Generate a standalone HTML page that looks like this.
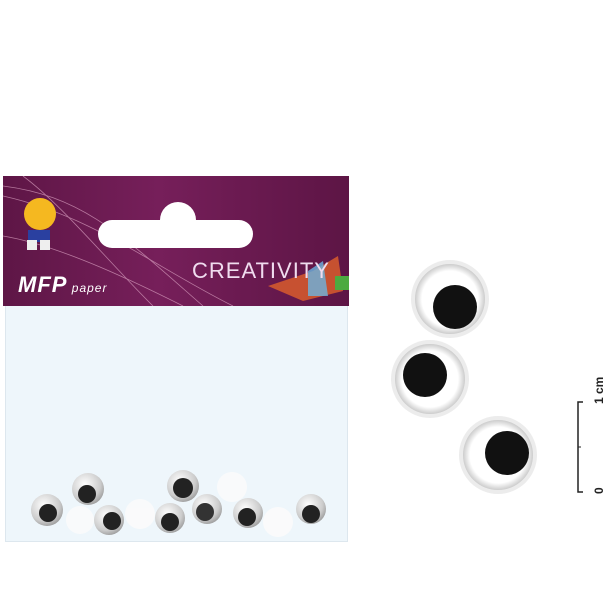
<!DOCTYPE html>
<html><head><style>
body{margin:0;width:611px;height:611px;background:#fff;position:relative;overflow:hidden;font-family:"Liberation Sans",sans-serif}
.a{position:absolute}
</style></head><body>
<div class="a" style="left:3px;top:176px;width:346px;height:130px;background:linear-gradient(90deg,#5e1646 0%,#761f5a 45%,#6a1a50 70%,#5d1545 100%)"></div>
<svg class="a" style="left:3px;top:176px" width="346" height="130">
<g fill="none" stroke="#d9a0c0" stroke-width="0.8" opacity="0.7">
<path d="M0 10 C80 20 120 60 200 130"/><path d="M0 20 C90 40 150 90 230 130"/><path d="M0 60 C60 70 140 110 180 130"/><path d="M20 0 C60 30 100 80 150 130"/>
</g>
<rect x="95" y="44" width="155" height="28" rx="14" fill="#fff"/>
<circle cx="175" cy="44" r="18" fill="#fff"/>
<circle cx="37" cy="38" r="16" fill="#f5b820"/>
<rect x="25" y="54" width="22" height="12" fill="#2a40a0"/>
<rect x="24" y="64" width="10" height="10" fill="#eee"/><rect x="37" y="64" width="10" height="10" fill="#eee"/>
<path d="M265 110 L310 95 L335 80 L340 115 L300 125Z" fill="#e0602a" opacity="0.8"/>
<path d="M305 95 L320 85 L325 120 L305 120Z" fill="#6cb4e0" opacity="0.8"/>
<rect x="332" y="100" width="14" height="14" fill="#4caa40"/>
</svg>
<div class="a" style="left:18px;top:272px;color:#fff;font-weight:bold;font-style:italic;font-size:22px;letter-spacing:1px">MFP<span style="font-size:12px;font-weight:normal;letter-spacing:1px"> paper</span></div>
<div class="a" style="left:192px;top:258px;color:#f0dcef;font-size:22px;letter-spacing:1px">CREATIVITY</div>
<div class="a" style="left:5px;top:306px;width:341px;height:235px;background:#eef6fb;border:1px solid #dde7ee;border-top:none"></div>
<svg class="a" style="left:0;top:0" width="611" height="611">
<defs>
<radialGradient id="s" cx="0.4" cy="0.35" r="0.7"><stop offset="0" stop-color="#fff"/><stop offset="0.7" stop-color="#ccc"/><stop offset="1" stop-color="#999"/></radialGradient>
<radialGradient id="w" cx="0.5" cy="0.5" r="0.5"><stop offset="0.8" stop-color="#fff"/><stop offset="1" stop-color="#ccc"/></radialGradient>
</defs>
<g fill="#fbfbfb" opacity="0.9">
<circle cx="80" cy="520" r="14"/><circle cx="140" cy="514" r="15"/><circle cx="232" cy="487" r="15"/><circle cx="278" cy="522" r="15"/>
</g>
<g>
<circle cx="47" cy="510" r="16" fill="url(#s)"/><circle cx="48" cy="513" r="9" fill="#222"/>
<circle cx="88" cy="489" r="16" fill="url(#s)"/><circle cx="87" cy="494" r="9" fill="#222"/>
<circle cx="109" cy="520" r="15" fill="url(#s)"/><circle cx="112" cy="521" r="9" fill="#222"/>
<circle cx="183" cy="486" r="16" fill="url(#s)"/><circle cx="183" cy="488" r="10" fill="#222"/>
<circle cx="170" cy="518" r="15" fill="url(#s)"/><circle cx="170" cy="522" r="9" fill="#222"/>
<circle cx="207" cy="509" r="15" fill="url(#s)"/><circle cx="205" cy="512" r="9" fill="#333"/>
<circle cx="248" cy="513" r="15" fill="url(#s)"/><circle cx="247" cy="517" r="9" fill="#222"/>
<circle cx="311" cy="509" r="15" fill="url(#s)"/><circle cx="311" cy="514" r="9" fill="#222"/>
</g>
<circle cx="450" cy="299" r="39" fill="#ececec"/><circle cx="450" cy="299" r="35" fill="url(#w)"/><circle cx="455" cy="307" r="22" fill="#111"/>
<circle cx="430" cy="379" r="39" fill="#ececec"/><circle cx="430" cy="379" r="35" fill="url(#w)"/><circle cx="425" cy="375" r="22" fill="#111"/>
<circle cx="498" cy="455" r="39" fill="#ececec"/><circle cx="498" cy="455" r="35" fill="url(#w)"/><circle cx="507" cy="453" r="22" fill="#111"/>
<path d="M583 402 H578 V492 H583" fill="none" stroke="#222" stroke-width="1.5"/>
<line x1="578" y1="447" x2="581" y2="447" stroke="#222"/>
<text transform="translate(603,404) rotate(-90)" font-size="12" font-weight="bold" fill="#222" font-family="Liberation Sans">1 cm</text>
<text transform="translate(603,494) rotate(-90)" font-size="12" font-weight="bold" fill="#222" font-family="Liberation Sans">0</text>
</svg>
</body></html>
